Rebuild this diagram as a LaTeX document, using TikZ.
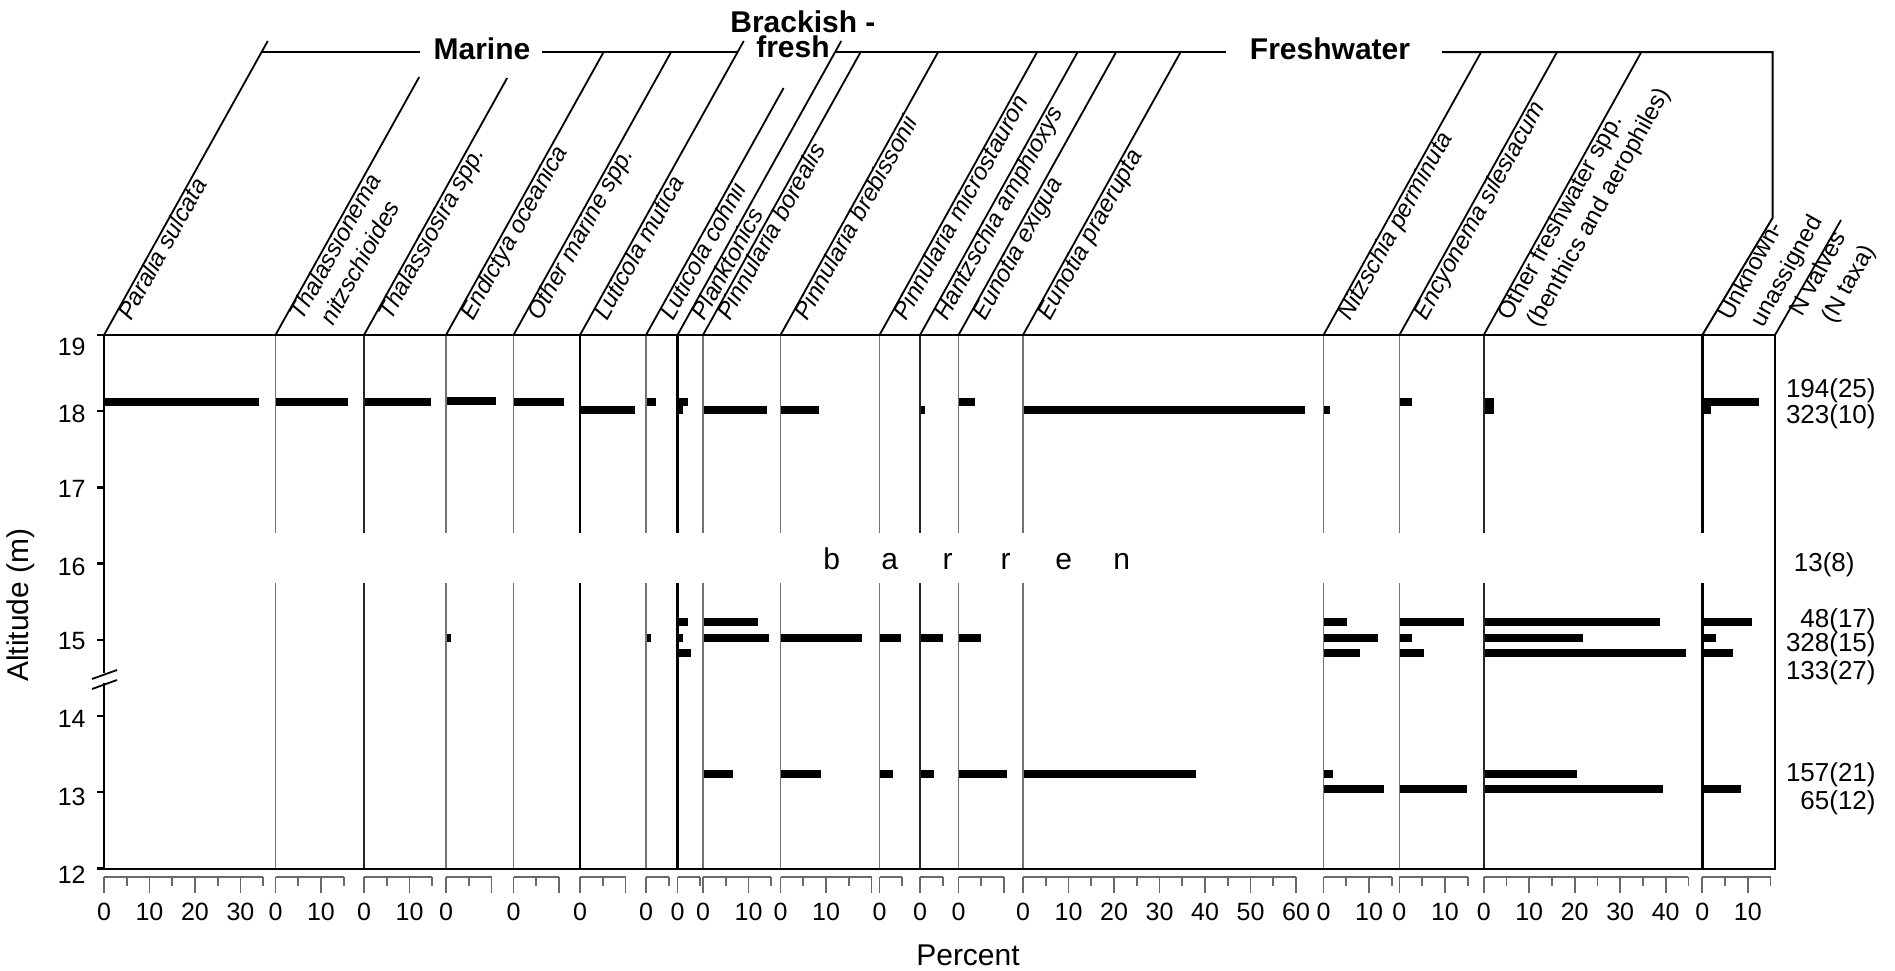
\documentclass[tikz,border=0pt]{standalone}
\usepackage{fontspec}
\setmainfont{Liberation Sans}
\definecolor{cGrid}{RGB}{115,115,115}
\definecolor{cScale}{RGB}{105,105,105}
\tikzset{
	frame/.style    ={line width=1.25pt, black},
	colthin/.style  ={line width=0.7pt, cGrid},
	coldark/.style  ={line width=0.8pt, black!85},
	colthick/.style ={line width=1.3pt, black},
	slant/.style    ={line width=0.9pt, black},
	grpline/.style  ={line width=1pt, black},
	bar/.style      ={fill=black, draw=none},
	scalebar/.style ={line width=0.9pt, cScale},
	% text styles
	taxon/.style    ={rotate=61, anchor=base west, inner sep=0pt, font=\fontsize{12}{14}\selectfont\itshape},
	taxonup/.style  ={rotate=61, anchor=base west, inner sep=0pt, font=\fontsize{12}{14}\selectfont},
	grouplab/.style ={anchor=base, inner sep=0pt, font=\fontsize{15}{18}\selectfont\bfseries},
	num/.style      ={anchor=base, inner sep=0pt, font=\fontsize{12.5}{15}\selectfont},
	nval/.style     ={anchor=east, inner sep=0pt, font=\fontsize{13}{15}\selectfont},
	axlab/.style    ={inner sep=0pt, font=\fontsize{15}{18}\selectfont},
}

\begin{document}
\begin{tikzpicture}[x=0.5pt, y=-0.5pt]
	\useasboundingbox (0,0) rectangle (1895,970);
	% bars: zero line / sample level / percent
	\foreach \x/\y/\p in {104/402/34, 275.5/402/16, 364/402/14.7, 446/401/11, 513.5/402/11, 646/402/2.2, 677.5/402/2.4, 958.5/402/3.7, 1399.4/402/2.8, 1483.7/402/2.2, 1702.3/402/12.5,
		580/410/12, 677.5/410/1.3, 703/410/14, 780.5/410/8.5, 920/410/1.1, 1023/410/62, 1323.5/410/1.5, 1483.7/410/2.2, 1702.3/410/1.8,
		677.5/622/2.3, 703/622/12, 1323.5/622/5.1, 1399.4/622/14.2, 1483.7/622/38.7, 1702.3/622/11,
		446/638/1, 646/638/1.2, 677.5/638/1.3, 703/638/14.6, 780.5/638/17.8, 879.5/638/4.7, 920/638/5, 958.5/638/4.9, 1323.5/638/12, 1399.4/638/2.8, 1483.7/638/21.8, 1702.3/638/3.1,
		677.5/653/2.9, 1323.5/653/8, 1399.4/653/5.4, 1483.7/653/44.5, 1702.3/653/6.8,
		703/774/6.5, 780.5/774/9, 879.5/774/3, 920/774/3.1, 958.5/774/10.6, 1023/774/38, 1323.5/774/2, 1483.7/774/20.5,
		1323.5/789/13.2, 1399.4/789/14.9, 1483.7/789/39.3, 1702.3/789/8.4}
		\fill[bar] ({\x},{\y-4.2}) rectangle ({\x+\p*4.55},{\y+4.2});
	% column zero lines, broken at the barren interval
	\foreach \x/\sty in {275.5/colthin, 364/coldark, 446/colthin, 513.5/colthin, 580/colthick, 646/colthin, 677.5/colthick, 703/colthin, 780.5/colthin,
		879.5/colthin, 920/coldark, 958.5/colthin, 1023/colthin, 1323.5/colthin, 1399.4/colthin, 1483.7/coldark, 1702.3/colthick} {
		\draw[\sty] (\x,335) -- (\x,533);
		\draw[\sty] (\x,583) -- (\x,869);
	}
	% frame and altitude axis
	\draw[frame] (97,335) -- (1775,335) -- (1775,869) -- (97,869);
	\draw[frame] (104,335) -- (104,673);
	\draw[frame] (104,683) -- (104,869);
	\draw[line width=0.9pt] (92,679) -- (117,670);
	\draw[line width=0.9pt] (92,689) -- (117,680);
	\foreach \v/\dy in {19/20, 18/11, 17/10, 16/12, 15/10, 14/11, 13/13, 12/15} {
		\pgfmathsetmacro{\yy}{335+(19-\v)*76.2}
		\draw[frame] (97,\yy) -- (104,\yy);
		\node[num, anchor=base east] (alt\v) at (86,\yy+\dy) {\v};
	}
	\node[axlab, rotate=90] (altitude) at (21,605) {Altitude (m)};
	% slanted header lines
	\foreach \x/\t in {104/41, 275.5/77, 364/78, 446/52, 513.5/52, 580/41, 646/88, 677.5/41, 703/52, 780.5/52,
		879.5/52, 920/52, 958.5/52, 1023/52, 1323.5/52, 1399.4/52, 1483.7/52}
		\draw[slant] (\x,335) -- ({\x+0.557*(335-\t)},\t);
	\draw[slant] (1775,335) -- (1841,220);
	% group lines
	\draw[grpline] (261.6,52) -- (420,52);
	\draw[grpline] (542,52) -- (737.6,52);
	\draw[grpline] (835.1,52) -- (1226,52);
	\draw[grpline] (1442,52) -- (1772.5,52) -- (1772.5,218) -- (1702.3,335);
	\node[grouplab] (marine) at (482,59) {Marine};
	\node[grouplab, anchor=base west] (brackish) at (730,32) {Brackish -};
	\node[grouplab] (fresh) at (793,57) {fresh};
	\node[grouplab] (freshwater) at (1330,59) {Freshwater};
	% taxon names
	\foreach \x/\txt [count=\i] in {104/Paralia sulcata, 364/Thalassiosira spp., 446/Endictya oceanica, 513.5/Other marine spp.,
		580/Luticola mutica, 646/Luticola cohnii, 677.5/Planktonics, 703/Pinnularia borealis, 780.5/Pinnularia brebissonii,
		879.5/Pinnularia microstauron, 920/Hantzschia amphioxys, 958.5/Eunotia exigua, 1023/Eunotia praerupta,
		1323.5/Nitzschia perminuta, 1399.4/Encyonema silesiacum}
		\node[taxon] (tx\i) at (\x+27,322) {\txt};
	\node[taxon] (thal1) at (302.5,322) {Thalassionema};
	\node[taxon] (thal2) at (333.5,327) {nitzschioides};
	\node[taxonup] (ofw1) at (1510.7,322) {Other freshwater spp.};
	\node[taxonup] (ofw2) at (1539.7,329) {(benthics and aerophiles)};
	\node[taxonup] (unk1) at (1731,322) {Unknown-};
	\node[taxonup] (unk2) at (1763,329) {unassigned};
	\node[taxonup] (nv1) at (1802,318) {N valves};
	\node[taxonup] (nv2) at (1834,325) {(N taxa)};
	% barren interval
	\foreach \ch [count=\i] in {b,a,r,r,e,n}
		\node[axlab, anchor=base] (barren\i) at ({831.7+58*(\i-1)},569) {\ch};
	% sample counts
	\foreach \y/\txt [count=\i] in {391/194(25), 417/323(10), 621/48(17), 645/328(15), 673/133(27), 775/157(21), 803/65(12)}
		\node[nval] (cnt\i) at (1876,\y) {\txt};
	\node[nval] (cntb) at (1855,565) {13(8)};
	% percent scales
	\foreach \x/\m/\labs [count=\c] in {104/35/{0,10,20,30}, 275.5/15/{0,10}, 364/15/{0,10}, 446/10/{0}, 513.5/10/{0}, 580/10/{0}, 646/5/{0},
		677.5/5/{0}, 703/15/{0,10}, 780.5/20/{0,10}, 879.5/5/{0}, 920/5/{0}, 958.5/10/{0}, 1023/60/{0,10,20,30,40,50,60},
		1323.5/15/{0,10}, 1399.4/15/{0,10}, 1483.7/45/{0,10,20,30,40}, 1702.3/15/{0,10}} {
		\draw[scalebar] (\x,877) -- ({\x+\m*4.55},877);
		\foreach \t in {0,5,...,\m} {
			\pgfmathsetmacro{\tl}{ifthenelse(mod(\t,10)==0,893,886)}
			\draw[scalebar] ({\x+\t*4.55},877) -- ({\x+\t*4.55},\tl);
		}
		\foreach \l in \labs
			\node[num] (sc\c-\l) at ({\x+\l*4.55},920) {\l};
	}
	\node[axlab, anchor=base] (percent) at (968,965) {Percent};
\end{tikzpicture}
\end{document}
